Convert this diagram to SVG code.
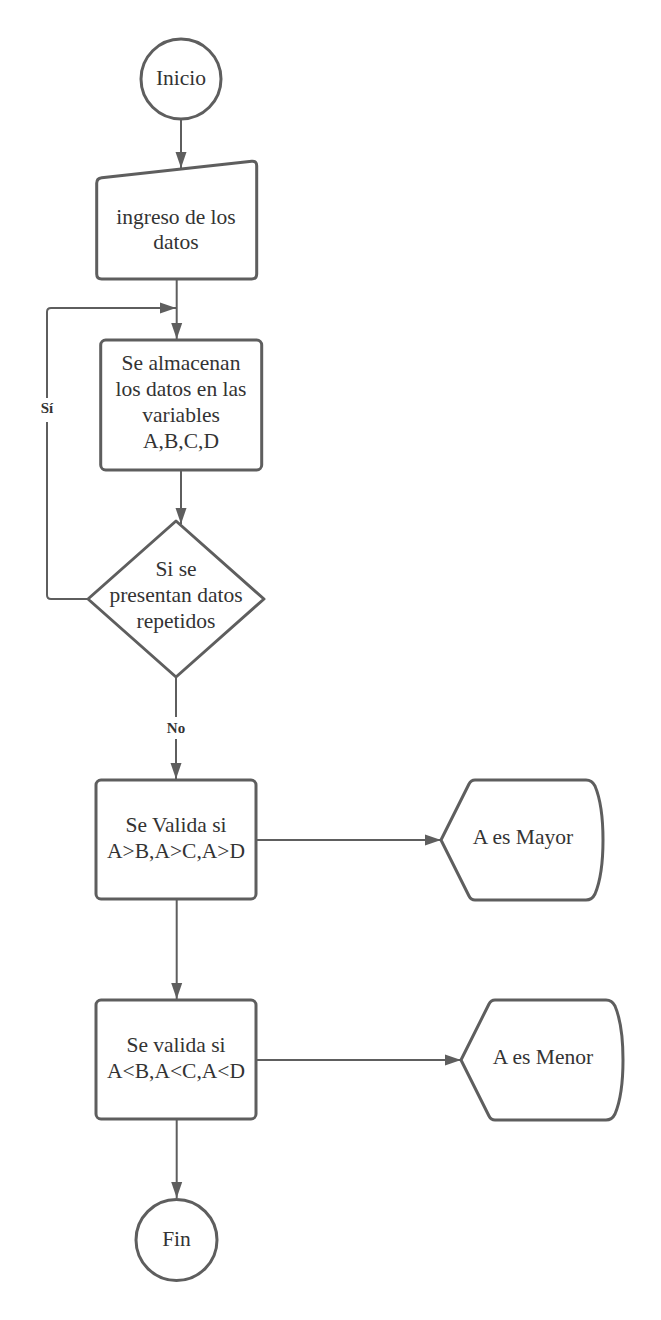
<svg xmlns="http://www.w3.org/2000/svg" width="661" height="1320" viewBox="0 0 661 1320">
  <style>
    .shape { fill: #ffffff; stroke: #5e5e5e; stroke-width: 3; stroke-linejoin: round; }
    .conn { fill: none; stroke: #5e5e5e; stroke-width: 2; }
    .t { font-family: "Liberation Serif", "Times New Roman", serif; font-size: 21.5px; fill: #333333; text-anchor: middle; }
    .lbl { font-family: "Liberation Serif", "Times New Roman", serif; font-size: 15px; font-weight: bold; fill: #333333; text-anchor: middle; }
  </style>
  <defs>
    <marker id="arrow" markerUnits="userSpaceOnUse" markerWidth="17" markerHeight="12" refX="16" refY="6" orient="auto">
      <path d="M0,0.5 L16,6 L0,11.5 Z" fill="#5e5e5e"/>
    </marker>
  </defs>
  <rect width="661" height="1320" fill="#ffffff"/>

  <g id="connectors">
    <path class="conn" d="M181,120 L181,168" marker-end="url(#arrow)"/>
    <path class="conn" d="M176.7,280 L176.7,339" marker-end="url(#arrow)"/>
    <path class="conn" d="M181,471 L181,524" marker-end="url(#arrow)"/>
    <path class="conn" d="M88,599 L51,599 Q47,599 47,595 L47,312 Q47,308 51,308 L176,308" marker-end="url(#arrow)"/>
    <path class="conn" d="M176,678 L176,779" marker-end="url(#arrow)"/>
    <path class="conn" d="M257,840 L441,840" marker-end="url(#arrow)"/>
    <path class="conn" d="M176.7,900 L176.7,999" marker-end="url(#arrow)"/>
    <path class="conn" d="M257,1060 L461,1060" marker-end="url(#arrow)"/>
    <path class="conn" d="M176.7,1120 L176.7,1198" marker-end="url(#arrow)"/>
    <rect x="37" y="398" width="20" height="24" fill="#ffffff"/>
    <text class="lbl" x="47" y="413">Sí</text>
    <rect x="163" y="717" width="26" height="22" fill="#ffffff"/>
    <text class="lbl" x="176" y="733">No</text>
  </g>

  <g id="inicio">
    <circle class="shape" cx="181" cy="79" r="40"/>
    <text class="t" x="181" y="85">Inicio</text>
  </g>

  <g id="ingreso">
    <path class="shape" d="M101.7,177.8 L251.7,161.2 Q256.7,160.7 256.7,165.7 L256.7,274 Q256.7,279 251.7,279 L101.7,279 Q96.7,279 96.7,274 L96.7,183.3 Q96.7,178.3 101.7,177.8 Z"/>
    <text class="t" x="176" y="223.5">ingreso de los</text>
    <text class="t" x="176" y="249">datos</text>
  </g>

  <g id="almacenan">
    <rect class="shape" x="100.7" y="340" width="161" height="130" rx="5" ry="5"/>
    <text class="t" x="181" y="370">Se almacenan</text>
    <text class="t" x="181" y="396">los datos en las</text>
    <text class="t" x="181" y="422">variables</text>
    <text class="t" x="181" y="448">A,B,C,D</text>
  </g>

  <g id="decision">
    <path class="shape" d="M176,521 L264,599 L176,677 L88,599 Z"/>
    <text class="t" x="176" y="576">Si se</text>
    <text class="t" x="176" y="602">presentan datos</text>
    <text class="t" x="176" y="628">repetidos</text>
  </g>

  <g id="valida-mayor">
    <rect class="shape" x="96" y="780" width="160" height="119" rx="5" ry="5"/>
    <text class="t" x="176" y="832">Se Valida si</text>
    <text class="t" x="176" y="858">A&gt;B,A&gt;C,A&gt;D</text>
  </g>

  <g id="mayor">
    <path class="shape" d="M475,780 L586,780 Q592,780 595,786 Q603,805 603,840 Q603,875 595,894 Q592,900 586,900 L475,900 Q471,900 469,896 L441,840 L469,784 Q471,780 475,780 Z"/>
    <text class="t" x="523" y="844">A es Mayor</text>
  </g>

  <g id="valida-menor">
    <rect class="shape" x="96" y="1000" width="160" height="119" rx="5" ry="5"/>
    <text class="t" x="176" y="1052">Se valida si</text>
    <text class="t" x="176" y="1078">A&lt;B,A&lt;C,A&lt;D</text>
  </g>

  <g id="menor">
    <path class="shape" d="M495,1000 L606,1000 Q612,1000 615,1006 Q623,1025 623,1060 Q623,1095 615,1114 Q612,1120 606,1120 L495,1120 Q491,1120 489,1116 L461,1060 L489,1004 Q491,1000 495,1000 Z"/>
    <text class="t" x="543" y="1064">A es Menor</text>
  </g>

  <g id="fin">
    <circle class="shape" cx="176.5" cy="1240" r="40.5"/>
    <text class="t" x="176.5" y="1246">Fin</text>
  </g>
</svg>
